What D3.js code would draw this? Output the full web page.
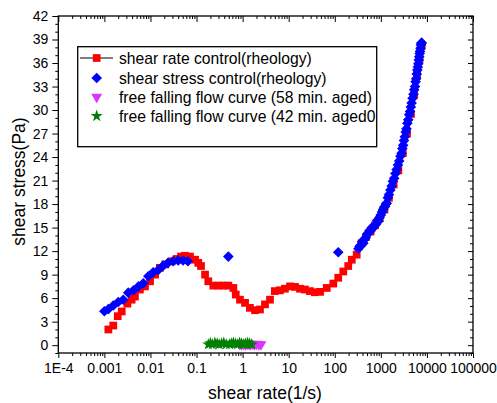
<!DOCTYPE html>
<html>
<head>
<meta charset="utf-8">
<script src="https://cdn.jsdelivr.net/npm/d3@7"></script>
<style>
  body { margin: 0; background: #fff; }
  text { font-family: "Liberation Sans", Arial, sans-serif; fill: #000; }
</style>
</head>
<body>
<div id="chart"></div>
<script>
// shear rate control (rheology)
const redX = [0.00122, 0.00156, 0.00195, 0.00238, 0.00316, 0.0039, 0.0046, 0.0059, 0.0076, 0.0098,
  0.0126, 0.016, 0.021, 0.029, 0.037, 0.046, 0.056, 0.072, 0.093, 0.109, 0.125, 0.153, 0.18, 0.231,
  0.296, 0.38, 0.49, 0.63, 0.71, 0.877, 1.13, 1.44, 1.86, 2.38, 3.06, 3.93, 5.0, 6.46, 8.3, 10.7,
  13.7, 17.6, 22.5, 28.8, 37, 48, 67, 93, 119, 153, 196, 234, 299, 383, 480, 600, 750, 950, 1200,
  1500, 1900, 2400, 3000, 3700, 4500, 5300, 6100, 6900, 7700];
const redY = [2.0, 2.5, 3.7, 4.3, 5.3, 5.8, 6.2, 7.1, 7.5, 8.15,
  9.0, 9.86, 10.3, 10.7, 11.0, 11.3, 11.4, 11.3, 10.9, 10.5, 10.1, 9.0, 8.15, 7.6,
  7.6, 7.6, 7.6, 7.3, 6.46, 5.8, 5.4, 4.76, 4.46, 4.55, 5.2, 5.8, 6.9, 7.0, 7.2, 7.5,
  7.44, 7.2, 7.1, 6.9, 6.75, 6.8, 7.3, 7.86, 8.6, 9.4, 10.1, 10.9, 11.55, 13.0, 13.8, 14.5, 15.3, 16.2, 17.3,
  18.8, 20.5, 22.3, 24.5, 27, 29.5, 32, 34.5, 36.5, 38.2];

// shear stress control (rheology)
const blueX = [0.001, 0.00122, 0.00156, 0.002, 0.00257, 0.0033, 0.0043, 0.0055, 0.007, 0.009,
  0.0115, 0.0148, 0.019, 0.024, 0.031, 0.040, 0.051, 0.065, 0.49, 119,
  326, 345, 360, 390, 417, 440, 470, 500, 533, 565, 600, 640, 690, 735, 780, 830, 880, 940,
  1000, 1060, 1120, 1180, 1230, 1290, 1340, 1420, 1500, 1610, 1718, 1830, 1950, 2070, 2200,
  2350, 2500, 2650, 2820, 2930, 3050, 3180, 3320, 3460, 3600, 3760, 3935, 4120, 4300, 4480,
  4660, 4880, 5100, 5300, 5520, 5680, 5850, 6020, 6200, 6350, 6500, 6660, 6820, 6960, 7100,
  7250, 7400, 7550, 7700];
const blueY = [4.33, 4.6, 5.06, 5.5, 5.8, 6.7, 7.0, 7.5, 7.9, 8.8,
  9.3, 9.6, 10.15, 10.5, 10.7, 10.8, 10.8, 10.7, 11.3, 11.85,
  12.3, 12.6, 12.7, 13.2, 13.0, 13.5, 13.7, 14.1, 14.3, 14.6, 14.6, 15.0, 15.0, 15.3, 15.4, 15.9, 15.8, 16.3,
  16.6, 17.0, 17.3, 17.6, 17.7, 18.0, 18.1, 18.8, 19.2, 19.8, 20.3, 20.9, 21.3, 21.9, 22.4,
  23.0, 23.5, 24.1, 24.5, 25.1, 25.5, 26.1, 26.6, 27.2, 27.6, 28.3, 28.75, 29.4, 29.8, 30.4,
  30.9, 31.5, 32.0, 32.6, 33.0, 33.6, 34.0, 34.6, 35.1, 35.5, 35.9, 36.4, 36.8, 37.2, 37.5,
  37.9, 38.3, 38.5, 38.6];

// free falling flow curve (58 min. aged)
const magentaX = [0.85, 0.95, 1.05, 1.15, 1.3, 1.45, 1.6, 1.8, 2.0, 2.25, 2.5];
const magentaY = [0.15, 0.1, 0.15, 0.1, 0.15, 0.1, 0.15, 0.1, 0.15, 0.1, 0.1];

// free falling flow curve (42 min. aged0
const greenX = [0.18, 0.2, 0.22, 0.25, 0.28, 0.31, 0.35, 0.39, 0.44, 0.52, 0.57, 0.63,
  0.7, 0.78, 0.86, 0.95, 1.05, 1.15, 1.28, 1.42, 1.58];
const greenY = [0.1, 0.25, 0.1, 0.3, 0.2, 0.1, 0.2, 0.3, 0.1, 0.1, 0.2, 0.3,
  0.2, 0.1, 0.3, 0.2, 0.1, 0.2, 0.3, 0.2, 0.1];

const xTickLabels = ['1E-4', '0.001', '0.01', '0.1', '1', '10', '100', '1000', '10000', '100000'];
const yTicks = [0, 3, 6, 9, 12, 15, 18, 21, 24, 27, 30, 33, 36, 39, 42];

const legendNames = [
  'shear rate control(rheology)',
  'shear stress control(rheology)',
  'free falling flow curve (58 min. aged)',
  'free falling flow curve (42 min. aged0'
];

const width = 497, height = 403;
const plotL = 58.3, plotR = 473, plotT = 16, plotB = 353;

const svg = d3.select('#chart').append('svg')
  .attr('width', width)
  .attr('height', height);

const x = d3.scaleLog().domain([1e-4, 1e5]).range([plotL, plotR]);
const y = d3.scaleLinear().domain([-1, 42]).range([plotB, plotT]);

// tick positions
const xMajor = d3.range(-4, 6).map(k => Math.pow(10, k));
const xMinor = [];
d3.range(-4, 5).forEach(k => { for (let m = 2; m <= 9; m++) xMinor.push(m * Math.pow(10, k)); });
const yMinor = d3.range(-1, 43).filter(v => v % 3 !== 0);

function styleAxis(g) {
  g.select('.domain').remove();
  g.selectAll('line').attr('stroke', '#000').attr('stroke-width', 1);
}

// bottom axis
svg.append('g').attr('transform', `translate(0,${plotB})`)
  .call(d3.axisBottom(x).tickValues(xMinor).tickSize(3).tickFormat(''))
  .call(styleAxis);
svg.append('g').attr('transform', `translate(0,${plotB})`)
  .call(d3.axisBottom(x).tickValues(xMajor).tickSize(5).tickPadding(5)
    .tickFormat((d, i) => xTickLabels[i]))
  .call(styleAxis)
  .selectAll('text').style('font-size', '14px');

// top axis (inward ticks)
svg.append('g').attr('transform', `translate(0,${plotT})`)
  .call(d3.axisBottom(x).tickValues(xMinor).tickSize(3).tickFormat(''))
  .call(styleAxis);
svg.append('g').attr('transform', `translate(0,${plotT})`)
  .call(d3.axisBottom(x).tickValues(xMajor).tickSize(6).tickFormat(''))
  .call(styleAxis);

// left axis
svg.append('g').attr('transform', `translate(${plotL},0)`)
  .call(d3.axisLeft(y).tickValues(yMinor).tickSize(3).tickFormat(''))
  .call(styleAxis);
svg.append('g').attr('transform', `translate(${plotL},0)`)
  .call(d3.axisLeft(y).tickValues(yTicks).tickSize(6).tickPadding(4))
  .call(styleAxis)
  .selectAll('text').style('font-size', '14px');

// right axis (inward ticks)
svg.append('g').attr('transform', `translate(${plotR},0)`)
  .call(d3.axisLeft(y).tickValues(yMinor).tickSize(3).tickFormat(''))
  .call(styleAxis);
svg.append('g').attr('transform', `translate(${plotR},0)`)
  .call(d3.axisLeft(y).tickValues(yTicks).tickSize(5).tickFormat(''))
  .call(styleAxis);

// frame
svg.append('rect')
  .attr('x', plotL).attr('y', plotT)
  .attr('width', plotR - plotL).attr('height', plotB - plotT)
  .attr('fill', 'none').attr('stroke', '#000').attr('stroke-width', 1.3);

// axis titles
svg.append('text')
  .attr('x', 265).attr('y', 399)
  .attr('text-anchor', 'middle')
  .style('font-size', '17.5px')
  .text('shear rate(1/s)');
svg.append('text')
  .attr('transform', 'translate(24.5,181.5) rotate(-90)')
  .attr('text-anchor', 'middle')
  .style('font-size', '17.5px')
  .text('shear stress(Pa)');

// symbols
const sq = d3.symbol().type(d3.symbolSquare).size(60);
const dia = d3.symbol().type(d3.symbolDiamond2).size(72);
const tri = d3.symbol().type(d3.symbolTriangle).size(52);
const star = d3.symbol().type(d3.symbolStar).size(46);

function drawSeries(xs, ys, path, color, rot) {
  svg.append('g').selectAll('path')
    .data(xs.map((v, i) => [v, ys[i]]))
    .enter().append('path')
    .attr('d', path)
    .attr('fill', color)
    .attr('transform', d => `translate(${x(d[0])},${y(d[1])})${rot ? ' rotate(' + rot + ')' : ''}`);
}

const colors = ['#ff0000', '#0000ff', '#dd33ff', '#008000'];
drawSeries(redX, redY, sq, colors[0]);
drawSeries(blueX, blueY, dia, colors[1]);
drawSeries(magentaX, magentaY, tri, colors[2], 180);
drawSeries(greenX, greenY, star, colors[3]);

// legend
const legend = svg.append('g');
legend.append('rect')
  .attr('x', 77.7).attr('y', 46.7)
  .attr('width', 299).attr('height', 100)
  .attr('fill', '#fff').attr('stroke', '#000').attr('stroke-width', 1.3);

const legendY = [58, 78, 97, 116];
const legendSym = [sq, dia, tri, star];
legendNames.forEach((name, i) => {
  const cy = legendY[i];
  if (i === 0) {
    legend.append('line')
      .attr('x1', 80).attr('x2', 113).attr('y1', cy).attr('y2', cy)
      .attr('stroke', '#000').attr('stroke-width', 1);
  }
  legend.append('path')
    .attr('d', legendSym[i])
    .attr('fill', colors[i])
    .attr('transform', `translate(96.7,${cy})${i === 2 ? ' rotate(180)' : ''}`);
  legend.append('text')
    .attr('x', 119).attr('y', cy + 5.5)
    .style('font-size', '15.7px')
    .text(name);
});
</script>
</body>
</html>
